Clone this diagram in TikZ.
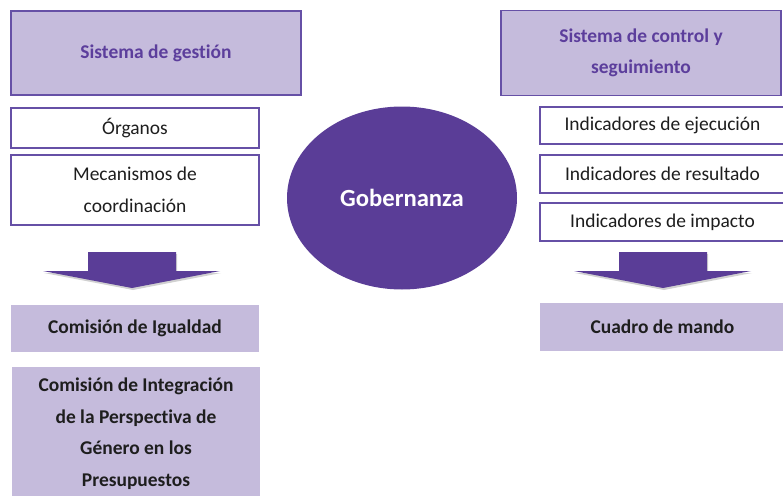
\documentclass[tikz,border=0pt]{standalone}
\usepackage{fontspec}
\setmainfont{Carlito}[Ligatures=NoCommon]
\usepackage{xcolor}
\usepackage{tikz}
\usetikzlibrary{shapes.geometric}

\definecolor{lila}{HTML}{C5BBDC}
\definecolor{morado}{HTML}{5A3D97}
\definecolor{borde}{HTML}{6650A6}
\definecolor{titulo}{HTML}{5C3E9C}
\definecolor{oscuro}{HTML}{1E1E1E}

\tikzset{
  texto/.style={font=\fontsize{14.6}{23.6}\selectfont, align=center, inner sep=0pt},
  cabecera/.style={texto, draw=borde, fill=lila, line width=1.1pt, text=titulo,
    font=\fontsize{14.6}{23.6}\selectfont\bfseries},
  caja/.style={texto, draw=borde, fill=white, line width=1.1pt, text=oscuro},
  bloque/.style={texto, fill=lila, text=oscuro,
    font=\fontsize{14.6}{23.6}\selectfont\bfseries},
  flecha/.style={fill=morado}
}

\begin{document}
\begin{tikzpicture}[x=0.75pt,y=-0.75pt]
        \useasboundingbox (0,0) rectangle (783,496);
        % Left column
        \node[cabecera, minimum width=217.5pt, minimum height=63pt] (gestion) at (156,53) {Sistema de gestión};
        \node[caja, minimum width=186pt, minimum height=30pt] (organos) at (135,128) {Órganos};
        \node[caja, minimum width=186pt, minimum height=52.5pt] (mecanismos) at (135,190) {Mecanismos de\\coordinación};
        \node[bloque, minimum width=186pt, minimum height=35.25pt] (igualdad) at (135,328.5) {Comisión de Igualdad};
        \node[bloque, minimum width=186pt, minimum height=99.75pt] (integracion) at (136,433.5) {Comisión de Integración\\de la Perspectiva de\\Género en los\\Presupuestos};
        % Centre
        \node[ellipse, fill=morado, inner sep=0pt, minimum width=172.5pt, minimum height=137.25pt,
              text=white, font=\fontsize{18.5}{22}\selectfont\bfseries] (gobernanza) at (402,198) {Gobernanza};
        % Right column
        \node[cabecera, minimum width=210pt, minimum height=63.75pt] (control) at (641,53) {Sistema de control y\\seguimiento};
        \node[caja, minimum width=183.75pt, minimum height=27.75pt] (ejecucion) at (662.5,125.5) {Indicadores de ejecución};
        \node[caja, minimum width=183.75pt, minimum height=28.5pt] (resultado) at (662.5,174) {Indicadores de resultado};
        \node[caja, minimum width=183.75pt, minimum height=28.5pt] (impacto) at (662.5,222) {Indicadores de impacto};
        \node[bloque, minimum width=183.75pt, minimum height=36pt] (cuadro) at (662.5,327) {Cuadro de mando};
        % Block arrows
        \foreach \dx in {0,531}{
            \begin{scope}[xshift=\dx*0.75pt]
                \fill[black, opacity=0.18] (89,254) -- (177,254) -- (177,273) -- (221,273)
                    -- (133,290) -- (44,273) -- (89,273) -- cycle; %shadow
                \fill[flecha] (88,252) -- (176,252) -- (176,271) -- (220,271)
                    -- (132,288) -- (43,271) -- (88,271) -- cycle;
            \end{scope}
        }
\end{tikzpicture}
\end{document}
